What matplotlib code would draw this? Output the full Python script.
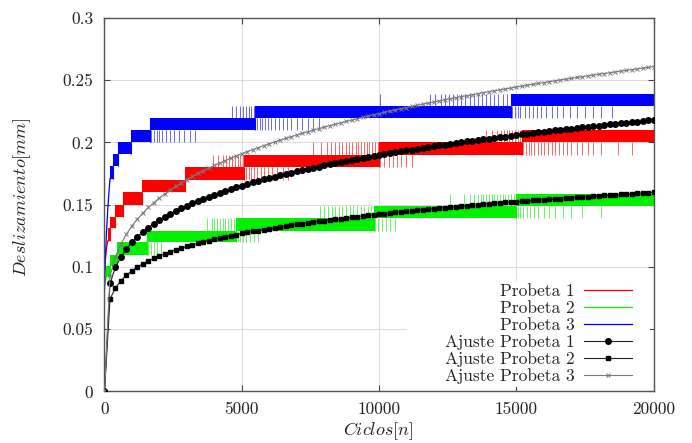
import numpy as np
import matplotlib
matplotlib.use("Agg")
import matplotlib.pyplot as plt
from matplotlib.patches import Rectangle

# ---------------- data ----------------
x_ticks = [0, 5000, 10000, 15000, 20000]
x_tick_labels = ["0", "5000", "10000", "15000", "20000"]
y_ticks = [0, 0.05, 0.1, 0.15, 0.2, 0.25, 0.3]
y_tick_labels = ["0", "0.05", "0.1", "0.15", "0.2", "0.25", "0.3"]

series_labels = ["Probeta 1", "Probeta 2", "Probeta 3",
                 "Ajuste Probeta 1", "Ajuste Probeta 2", "Ajuste Probeta 3"]

# Probeta 1 (red): initial rise, then quantised bands (two alternating levels)
p1_start_n = [0, 40, 80, 120]
p1_start_y = [0.098, 0.108, 0.116, 0.121]
p1_band_start = [120, 190, 380, 690, 1350, 2950, 5100, 10000, 15200]
p1_band_end = [190, 380, 690, 1350, 2950, 5100, 10000, 15200, 20000]
p1_band_low = [0.121, 0.131, 0.140, 0.150, 0.160, 0.170, 0.180, 0.190, 0.200]
p1_band_high = [0.131, 0.140, 0.150, 0.160, 0.170, 0.180, 0.190, 0.200, 0.210]
p1_spike_x = [
    [3950, 4150, 4300, 4420, 4550, 4650, 4750, 4850, 4950, 5050],
    [5150, 5250, 5350, 5450, 5550, 5700, 5800, 5950, 6100, 6300, 6500, 6700],
    [7600, 7900, 8100, 8250, 8400, 8550, 8650, 8800, 8900, 9000, 9150, 9250,
     9350, 9450, 9550, 9650, 9750, 9850, 9950],
    [10050, 10200, 10350, 10500, 10650, 10800, 11000, 11200],
    [13900, 14100, 14300, 14450, 14550, 14650, 14750, 14850, 14950, 15050, 15150],
    [15250, 15350, 15450, 15550, 15650, 15800, 15900, 16000, 16150, 16300, 16400,
     16550, 16700, 16850, 17000, 17200, 17400, 17600, 17800, 18100, 18700, 19200],
]
p1_spike_low = [0.180, 0.170, 0.190, 0.180, 0.200, 0.190]
p1_spike_high = [0.190, 0.180, 0.200, 0.190, 0.210, 0.200]

# Probeta 2 (green)
p2_start_n = [0, 60]
p2_start_y = [0.085, 0.092]
p2_band_start = [60, 200, 450, 1550, 4800, 9800, 15000]
p2_band_end = [200, 450, 1550, 4800, 9800, 15000, 20000]
p2_band_low = [0.092, 0.101, 0.110, 0.120, 0.129, 0.139, 0.149]
p2_band_high = [0.101, 0.110, 0.120, 0.129, 0.139, 0.149, 0.159]
p2_spike_x = [
    [1600, 1700, 1800, 1900, 2050],
    [3750, 3900, 4000, 4100, 4200, 4300, 4400, 4500, 4600, 4700],
    [4850, 4950, 5050, 5150, 5300, 5450, 5600],
    [7850, 8000, 8150, 8300, 8400, 8550, 8650, 8800, 8950, 9050, 9200, 9350,
     9450, 9600, 9700],
    [9850, 9950, 10100, 10250, 10400, 10600],
    [12600, 13100, 13300, 13450, 13600, 13700, 13800, 13900, 14000, 14100, 14200,
     14300, 14400, 14500, 14600, 14700, 14800, 14900],
    [15050, 15150, 15250, 15400, 15500, 15650, 15800, 16000, 16200, 16400, 16700,
     17000, 17400, 18100],
]
p2_spike_low = [0.110, 0.129, 0.120, 0.139, 0.129, 0.149, 0.139]
p2_spike_high = [0.120, 0.139, 0.129, 0.149, 0.139, 0.159, 0.149]

# Probeta 3 (blue)
p3_start_n = [0, 30, 70, 130, 200]
p3_start_y = [0.081, 0.105, 0.127, 0.150, 0.171]
p3_band_start = [200, 320, 480, 950, 1650, 5500, 14800]
p3_band_end = [320, 480, 950, 1650, 5500, 14800, 20000]
p3_band_low = [0.171, 0.181, 0.191, 0.200, 0.210, 0.220, 0.229]
p3_band_high = [0.181, 0.191, 0.200, 0.210, 0.220, 0.229, 0.239]
p3_spike_x = [
    [1700, 1800, 1900, 2000, 2100, 2250, 2400, 2550, 2700, 2900, 3100, 3300],
    [4650, 4800, 4950, 5050, 5150, 5250, 5350, 5450],
    [5550, 5650, 5750, 5850, 5950, 6050, 6200, 6350, 6500, 6650, 6800, 7000,
     7200, 7400, 7600, 7800],
    [10036, 11850, 12050, 12250, 12400, 12550, 12700, 12850, 13000, 13150, 13300,
     13450, 13600, 13750, 13900, 14050, 14200, 14350, 14500, 14650],
    [14850, 14950, 15050, 15150, 15300, 15450, 15600, 15750, 15900, 16100, 16300,
     16500, 16700, 16950, 17200, 17500, 17800, 18100, 18500],
]
p3_spike_low = [0.200, 0.220, 0.210, 0.229, 0.220]
p3_spike_high = [0.210, 0.229, 0.220, 0.239, 0.229]

# Fitted curves, sampled every 200 cycles
fit_cycles = list(range(0, 20001, 200))
fit1 = [0.0, 0.0869, 0.0998, 0.1082, 0.1146, 0.1198, 0.1243, 0.1282, 0.1316, 0.1348, 0.1376,
        0.1403, 0.1428, 0.1451, 0.1472, 0.1493, 0.1512, 0.1531, 0.1548, 0.1565, 0.1581,
        0.1597, 0.1612, 0.1626, 0.1640, 0.1653, 0.1666, 0.1679, 0.1691, 0.1703, 0.1715,
        0.1726, 0.1737, 0.1748, 0.1758, 0.1768, 0.1778, 0.1788, 0.1798, 0.1807, 0.1816,
        0.1825, 0.1834, 0.1843, 0.1851, 0.1860, 0.1868, 0.1876, 0.1884, 0.1891, 0.1899,
        0.1907, 0.1914, 0.1921, 0.1929, 0.1936, 0.1943, 0.1950, 0.1956, 0.1963, 0.1970,
        0.1976, 0.1983, 0.1989, 0.1995, 0.2001, 0.2008, 0.2014, 0.2020, 0.2026, 0.2031,
        0.2037, 0.2043, 0.2048, 0.2054, 0.2060, 0.2065, 0.2070, 0.2076, 0.2081, 0.2086,
        0.2092, 0.2097, 0.2102, 0.2107, 0.2112, 0.2117, 0.2122, 0.2126, 0.2131, 0.2136,
        0.2141, 0.2146, 0.2150, 0.2155, 0.2159, 0.2164, 0.2168, 0.2173, 0.2177, 0.2182]
fit2 = [0.0, 0.0741, 0.0832, 0.0891, 0.0934, 0.0970, 0.1000, 0.1026, 0.1049, 0.1070, 0.1089,
        0.1106, 0.1123, 0.1138, 0.1152, 0.1165, 0.1178, 0.1190, 0.1201, 0.1212, 0.1223,
        0.1233, 0.1242, 0.1251, 0.1260, 0.1269, 0.1277, 0.1285, 0.1293, 0.1301, 0.1308,
        0.1315, 0.1322, 0.1329, 0.1336, 0.1342, 0.1349, 0.1355, 0.1361, 0.1367, 0.1373,
        0.1378, 0.1384, 0.1389, 0.1395, 0.1400, 0.1405, 0.1410, 0.1415, 0.1420, 0.1425,
        0.1429, 0.1434, 0.1439, 0.1443, 0.1448, 0.1452, 0.1456, 0.1460, 0.1465, 0.1469,
        0.1473, 0.1477, 0.1481, 0.1485, 0.1489, 0.1492, 0.1496, 0.1500, 0.1503, 0.1507,
        0.1511, 0.1514, 0.1518, 0.1521, 0.1524, 0.1528, 0.1531, 0.1534, 0.1538, 0.1541,
        0.1544, 0.1547, 0.1550, 0.1554, 0.1557, 0.1560, 0.1563, 0.1566, 0.1569, 0.1572,
        0.1575, 0.1577, 0.1580, 0.1583, 0.1586, 0.1589, 0.1591, 0.1594, 0.1597, 0.1600]
fit3 = [0.0, 0.0926, 0.1082, 0.1185, 0.1264, 0.1330, 0.1385, 0.1434, 0.1478, 0.1517, 0.1554,
        0.1588, 0.1619, 0.1648, 0.1676, 0.1702, 0.1727, 0.1751, 0.1774, 0.1795, 0.1816,
        0.1836, 0.1855, 0.1874, 0.1892, 0.1910, 0.1927, 0.1943, 0.1959, 0.1975, 0.1990,
        0.2004, 0.2019, 0.2033, 0.2046, 0.2060, 0.2073, 0.2086, 0.2098, 0.2111, 0.2123,
        0.2135, 0.2146, 0.2157, 0.2169, 0.2180, 0.2190, 0.2201, 0.2212, 0.2222, 0.2232,
        0.2242, 0.2252, 0.2261, 0.2271, 0.2280, 0.2290, 0.2299, 0.2308, 0.2317, 0.2325,
        0.2334, 0.2343, 0.2351, 0.2359, 0.2368, 0.2376, 0.2384, 0.2392, 0.2400, 0.2407,
        0.2415, 0.2423, 0.2430, 0.2438, 0.2445, 0.2452, 0.2460, 0.2467, 0.2474, 0.2481,
        0.2488, 0.2495, 0.2502, 0.2508, 0.2515, 0.2522, 0.2528, 0.2535, 0.2541, 0.2548,
        0.2554, 0.2560, 0.2566, 0.2573, 0.2579, 0.2585, 0.2591, 0.2597, 0.2603, 0.2609]

# ---------------- style ----------------
plt.rcParams["font.family"] = "cmr10"
plt.rcParams["mathtext.fontset"] = "cm"
plt.rcParams["axes.unicode_minus"] = False
plt.rcParams["axes.formatter.use_mathtext"] = True

FS = 12.5
RED, GREEN, BLUE = "#ff0000", "#00f000", "#0000ff"

fig = plt.figure(figsize=(6.92, 4.43), dpi=100)
ax = fig.add_axes([0.151, 0.1163, 0.7934, 0.8431])


def draw_probeta(color, sn, sy, bs, be, bl, bh, spx, spl, sph, label):
    line, = ax.plot(sn, sy, color=color, lw=0.9, zorder=2, label=label)
    for s, e, lo, hi in zip(bs, be, bl, bh):
        ax.fill_between([s, e], [lo, lo], [hi, hi], color=color, lw=0, zorder=2)
        ax.vlines([s, e], lo, hi, color=color, lw=0.8, zorder=2)
    for xs, lo, hi in zip(spx, spl, sph):
        ax.vlines(xs, lo, hi, color=color, lw=0.6, alpha=0.7, zorder=2)
    return line


h1 = draw_probeta(RED, p1_start_n, p1_start_y, p1_band_start, p1_band_end,
                  p1_band_low, p1_band_high, p1_spike_x, p1_spike_low, p1_spike_high,
                  series_labels[0])
h2 = draw_probeta(GREEN, p2_start_n, p2_start_y, p2_band_start, p2_band_end,
                  p2_band_low, p2_band_high, p2_spike_x, p2_spike_low, p2_spike_high,
                  series_labels[1])
h3 = draw_probeta(BLUE, p3_start_n, p3_start_y, p3_band_start, p3_band_end,
                  p3_band_low, p3_band_high, p3_spike_x, p3_spike_low, p3_spike_high,
                  series_labels[2])

h4, = ax.plot(fit_cycles, fit1, color="#222222", lw=0.8, marker="o", ms=4.0,
              mfc="black", mec="black", zorder=4, label=series_labels[3])
h5, = ax.plot(fit_cycles, fit2, color="#222222", lw=0.8, marker="s", ms=3.5,
              mfc="black", mec="black", zorder=4, label=series_labels[4])
h6, = ax.plot(fit_cycles, fit3, color="#7a7a7a", lw=0.8, marker="x", ms=3.0,
              mew=0.7, mec="#7a7a7a", zorder=4, label=series_labels[5])

ax.set_xlim(0, 20000)
ax.set_ylim(0, 0.3)
ax.set_xticks(x_ticks)
ax.set_xticklabels(x_tick_labels)
ax.set_yticks(y_ticks)
ax.set_yticklabels(y_tick_labels)
ax.tick_params(direction="in", top=True, right=True, length=4, width=0.8,
               labelsize=FS, colors="#444444", labelcolor="#222222")
ax.tick_params(axis="x", pad=7)
ax.tick_params(axis="y", pad=8)
ax.grid(True, color="#d6d6d6", lw=0.6)
ax.set_axisbelow(True)
for sp in ax.spines.values():
    sp.set_color("#555555")
    sp.set_linewidth(1.0)

ax.set_xlabel(r"$Ciclos[n]$", fontsize=FS + 0.5, color="#222222")
ax.set_ylabel(r"$Deslizamiento[mm]$", fontsize=FS + 0.5, color="#222222")
ax.xaxis.set_label_coords(0.498, -0.078)
ax.yaxis.set_label_coords(-0.13, 0.52)

# key background (covers grid lines)
ax.add_patch(Rectangle((0.551, 0.013), 0.442, 0.284, transform=ax.transAxes,
                       facecolor="white", edgecolor="none", zorder=1.5))

leg = ax.legend(handles=[h1, h2, h3, h4, h5, h6], loc="lower right",
                bbox_to_anchor=(0.968, 0.01), frameon=False, markerfirst=False,
                fontsize=FS, handlelength=2.8, handletextpad=0.55,
                labelspacing=0.08, borderpad=0.2, borderaxespad=0, numpoints=1)
for t in leg.get_texts():
    t.set_color("#222222")

fig.savefig("out.png", dpi=100)
